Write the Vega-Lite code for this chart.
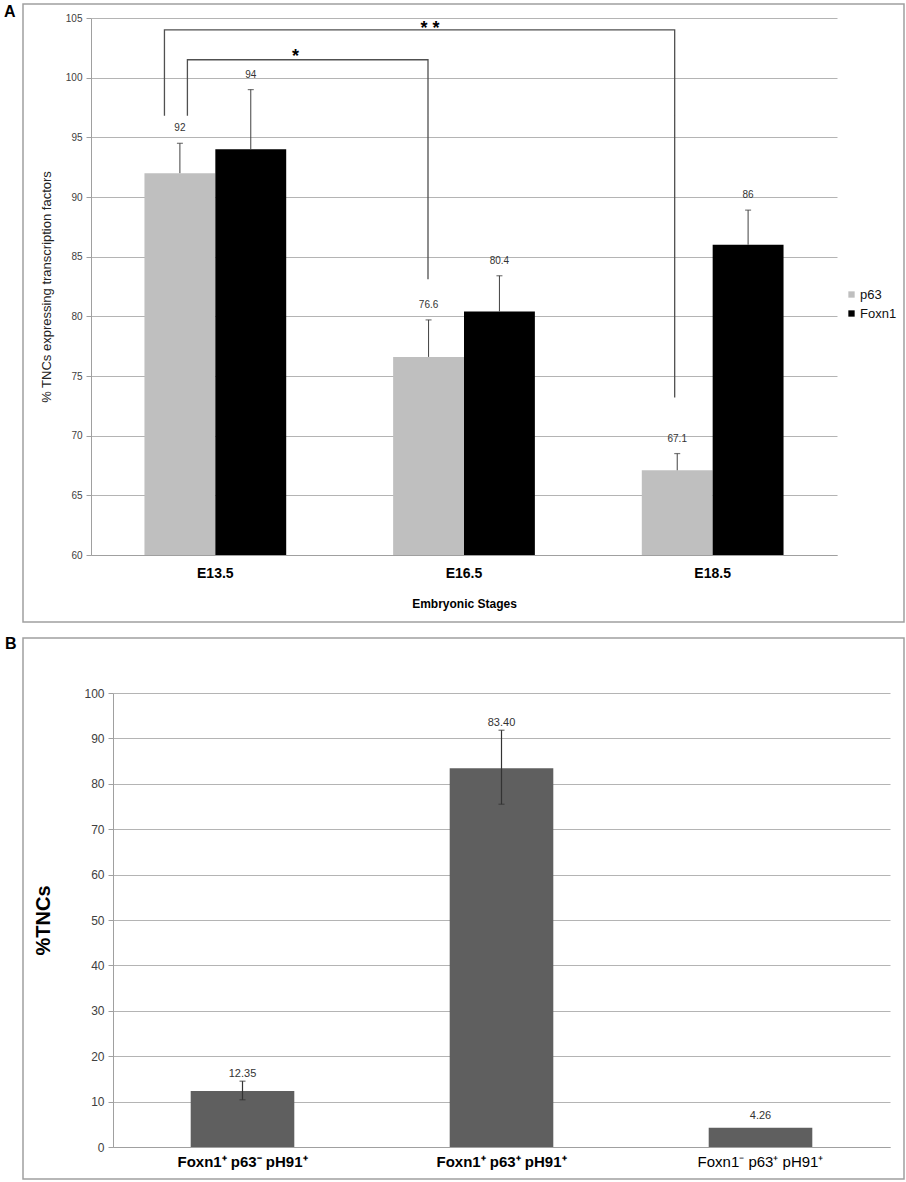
{
  "$schema": "https://vega.github.io/schema/vega-lite/v6.json",
  "background": "white",
  "padding": {"left": 3, "top": 3, "right": 0, "bottom": 0},
  "spacing": 12,
  "config": {
    "font": "Liberation Sans",
    "axis": {"labelFont": "Liberation Sans", "titleFont": "Liberation Sans"},
    "legend": {"labelFont": "Liberation Sans"}
  },
  "vconcat": [
    {
      "width": 881,
      "height": 618,
      "view": {"stroke": "#a0a0a0", "strokeWidth": 1.5},
      "title": {
        "text": "A", "orient": "top", "anchor": "start", "frame": "group",
        "offset": -16, "dx": -19, "fontSize": 16, "fontWeight": "bold", "color": "#000000"
      },
      "layer": [
        {
          "data": {
            "values": [
              {"stage": "E13.5", "marker": "p63", "value": 92, "hi": 94.5, "label": "92"},
              {"stage": "E13.5", "marker": "Foxn1", "value": 94, "hi": 99, "label": "94"},
              {"stage": "E16.5", "marker": "p63", "value": 76.6, "hi": 79.7, "label": "76.6"},
              {"stage": "E16.5", "marker": "Foxn1", "value": 80.4, "hi": 83.4, "label": "80.4"},
              {"stage": "E18.5", "marker": "p63", "value": 67.1, "hi": 68.5, "label": "67.1"},
              {"stage": "E18.5", "marker": "Foxn1", "value": 86, "hi": 88.9, "label": "86"}
            ]
          },
          "encoding": {
            "x": {
              "field": "stage", "type": "nominal", "sort": ["E13.5", "E16.5", "E18.5"],
              "scale": {"range": [68, 814], "paddingInner": 0.43, "paddingOuter": 0.215},
              "axis": {
                "title": "Embryonic Stages", "offset": -67, "labelAngle": 0,
                "ticks": false, "domainColor": "#a0a0a0", "labelPadding": 11,
                "labelFontSize": 14, "labelFontWeight": "bold", "labelColor": "#000000",
                "titleFontSize": 12, "titleFontWeight": "bold", "titleColor": "#000000",
                "titlePadding": 18
              }
            },
            "xOffset": {"field": "marker", "type": "nominal", "sort": ["p63", "Foxn1"]}
          },
          "layer": [
            {
              "mark": {"type": "bar"},
              "encoding": {
                "y": {
                  "field": "value", "type": "quantitative",
                  "scale": {"domain": [60, 105], "range": [551, 14], "zero": false},
                  "axis": {
                    "title": "% TNCs expressing transcription factors",
                    "values": [60, 65, 70, 75, 80, 85, 90, 95, 100, 105],
                    "offset": -68, "grid": true, "gridColor": "#b4b4b4",
                    "domainColor": "#a0a0a0", "tickColor": "#a0a0a0", "tickSize": 5,
                    "labelFontSize": 10, "labelColor": "#404040", "labelPadding": 4,
                    "titleFontSize": 13, "titleFontWeight": "normal", "titleColor": "#222222",
                    "titlePadding": 12
                  }
                },
                "y2": {"datum": 60},
                "color": {
                  "field": "marker", "type": "nominal",
                  "scale": {"domain": ["p63", "Foxn1"], "range": ["#bfbfbf", "#000000"]},
                  "legend": {
                    "orient": "none", "legendX": 822, "legendY": 284, "title": null,
                    "symbolType": "square", "symbolSize": 40, "symbolStrokeWidth": 0,
                    "labelFontSize": 13, "labelColor": "#111111", "rowPadding": 5, "labelOffset": 2
                  }
                }
              }
            },
            {
              "mark": {"type": "rule", "color": "#404040", "strokeWidth": 1},
              "encoding": {
                "y": {"field": "value", "type": "quantitative"},
                "y2": {"field": "hi"}
              }
            },
            {
              "mark": {"type": "tick", "color": "#404040", "thickness": 1.2, "size": 6},
              "encoding": {"y": {"field": "hi", "type": "quantitative"}}
            },
            {
              "mark": {"type": "text", "fontSize": 10, "color": "#333333", "baseline": "alphabetic", "dy": -12},
              "encoding": {
                "y": {"field": "hi", "type": "quantitative"},
                "text": {"field": "label"}
              }
            }
          ]
        },
        {
          "data": {
            "values": [
              {"br": "outer", "ord": 1, "stage": "E13.5", "off": 0.141, "v": 96.8},
              {"br": "outer", "ord": 2, "stage": "E13.5", "off": 0.141, "v": 104.0},
              {"br": "outer", "ord": 3, "stage": "E18.5", "off": 0.232, "v": 104.0},
              {"br": "outer", "ord": 4, "stage": "E18.5", "off": 0.232, "v": 73.2},
              {"br": "inner", "ord": 1, "stage": "E13.5", "off": 0.303, "v": 96.8},
              {"br": "inner", "ord": 2, "stage": "E13.5", "off": 0.303, "v": 101.5},
              {"br": "inner", "ord": 3, "stage": "E16.5", "off": 0.246, "v": 101.5},
              {"br": "inner", "ord": 4, "stage": "E16.5", "off": 0.246, "v": 83.1}
            ]
          },
          "mark": {"type": "line", "color": "#505050", "strokeWidth": 1.3},
          "encoding": {
            "x": {"field": "stage", "type": "nominal", "sort": ["E13.5", "E16.5", "E18.5"]},
            "xOffset": {"field": "off", "type": "quantitative", "scale": {"domain": [0, 1]}},
            "y": {"field": "v", "type": "quantitative"},
            "detail": {"field": "br"},
            "order": {"field": "ord"}
          }
        },
        {
          "data": {
            "values": [
              {"stage": "E13.5", "off": 1.066, "v": 102.1, "sig": "*"},
              {"stage": "E16.5", "off": 0.26, "v": 104.4, "sig": "*  *"}
            ]
          },
          "mark": {"type": "text", "fontSize": 18, "fontWeight": "bold", "color": "#000000", "baseline": "middle", "dy": 4},
          "encoding": {
            "x": {"field": "stage", "type": "nominal", "sort": ["E13.5", "E16.5", "E18.5"]},
            "xOffset": {"field": "off", "type": "quantitative", "scale": {"domain": [0, 1]}},
            "y": {"field": "v", "type": "quantitative"},
            "text": {"field": "sig"}
          }
        }
      ],
      "resolve": {"scale": {"xOffset": "independent"}}
    },
    {
      "width": 881,
      "height": 541,
      "view": {"stroke": "#a0a0a0", "strokeWidth": 1.5},
      "title": {
        "text": "B", "orient": "top", "anchor": "start", "frame": "group",
        "offset": -14, "dx": -18, "fontSize": 16, "fontWeight": "bold", "color": "#000000"
      },
      "data": {
        "values": [
          {"cat": "Foxn1⁺ p63⁻ pH91⁺", "value": 12.35, "lo": 10.4, "hi": 14.5, "label": "12.35"},
          {"cat": "Foxn1⁺ p63⁺ pH91⁺", "value": 83.4, "lo": 75.5, "hi": 91.8, "label": "83.40"},
          {"cat": "Foxn1⁻ p63⁺ pH91⁺", "value": 4.26, "lo": null, "hi": null, "label": "4.26"}
        ]
      },
      "encoding": {
        "x": {
          "field": "cat", "type": "nominal", "sort": null,
          "scale": {"range": [90, 867], "paddingInner": 0.6, "paddingOuter": 0.3},
          "axis": {
            "title": null, "offset": -32, "labelAngle": 0, "ticks": false,
            "domainColor": "#a0a0a0", "labelPadding": 7, "labelFontSize": 15,
            "labelColor": "#000000",
            "labelFontWeight": {"condition": {"test": "datum.value === 'Foxn1⁻ p63⁺ pH91⁺'", "value": "normal"}, "value": "bold"}
          }
        }
      },
      "layer": [
        {
          "mark": {"type": "bar", "color": "#5f5f5f"},
          "encoding": {
            "y": {
              "field": "value", "type": "quantitative",
              "scale": {"domain": [0, 100], "range": [509, 55]},
              "axis": {
                "title": "%TNCs", "values": [0, 10, 20, 30, 40, 50, 60, 70, 80, 90, 100],
                "offset": -90, "grid": true, "gridColor": "#b4b4b4",
                "domainColor": "#a0a0a0", "tickColor": "#a0a0a0", "tickSize": 5,
                "labelFontSize": 12, "labelColor": "#404040", "labelPadding": 4,
                "titleFontSize": 20, "titleFontWeight": "bold", "titleColor": "#000000",
                "titlePadding": 30
              }
            }
          }
        },
        {
          "transform": [{"filter": "isValid(datum.hi)"}],
          "mark": {"type": "rule", "color": "#333333", "strokeWidth": 1.2},
          "encoding": {
            "y": {"field": "lo", "type": "quantitative"},
            "y2": {"field": "hi"}
          }
        },
        {
          "transform": [{"filter": "isValid(datum.hi)"}],
          "mark": {"type": "tick", "color": "#333333", "thickness": 1.2, "size": 6},
          "encoding": {"y": {"field": "hi", "type": "quantitative"}}
        },
        {
          "transform": [{"filter": "isValid(datum.hi)"}],
          "mark": {"type": "tick", "color": "#333333", "thickness": 1.2, "size": 6},
          "encoding": {"y": {"field": "lo", "type": "quantitative"}}
        },
        {
          "transform": [{"filter": "isValid(datum.hi)"}],
          "mark": {"type": "text", "fontSize": 11, "color": "#333333", "baseline": "alphabetic", "dy": -4},
          "encoding": {
            "y": {"field": "hi", "type": "quantitative"},
            "text": {"field": "label"}
          }
        },
        {
          "transform": [{"filter": "!isValid(datum.hi)"}],
          "mark": {"type": "text", "fontSize": 11, "color": "#333333", "baseline": "alphabetic", "dy": -9},
          "encoding": {
            "y": {"field": "value", "type": "quantitative"},
            "text": {"field": "label"}
          }
        }
      ]
    }
  ]
}
